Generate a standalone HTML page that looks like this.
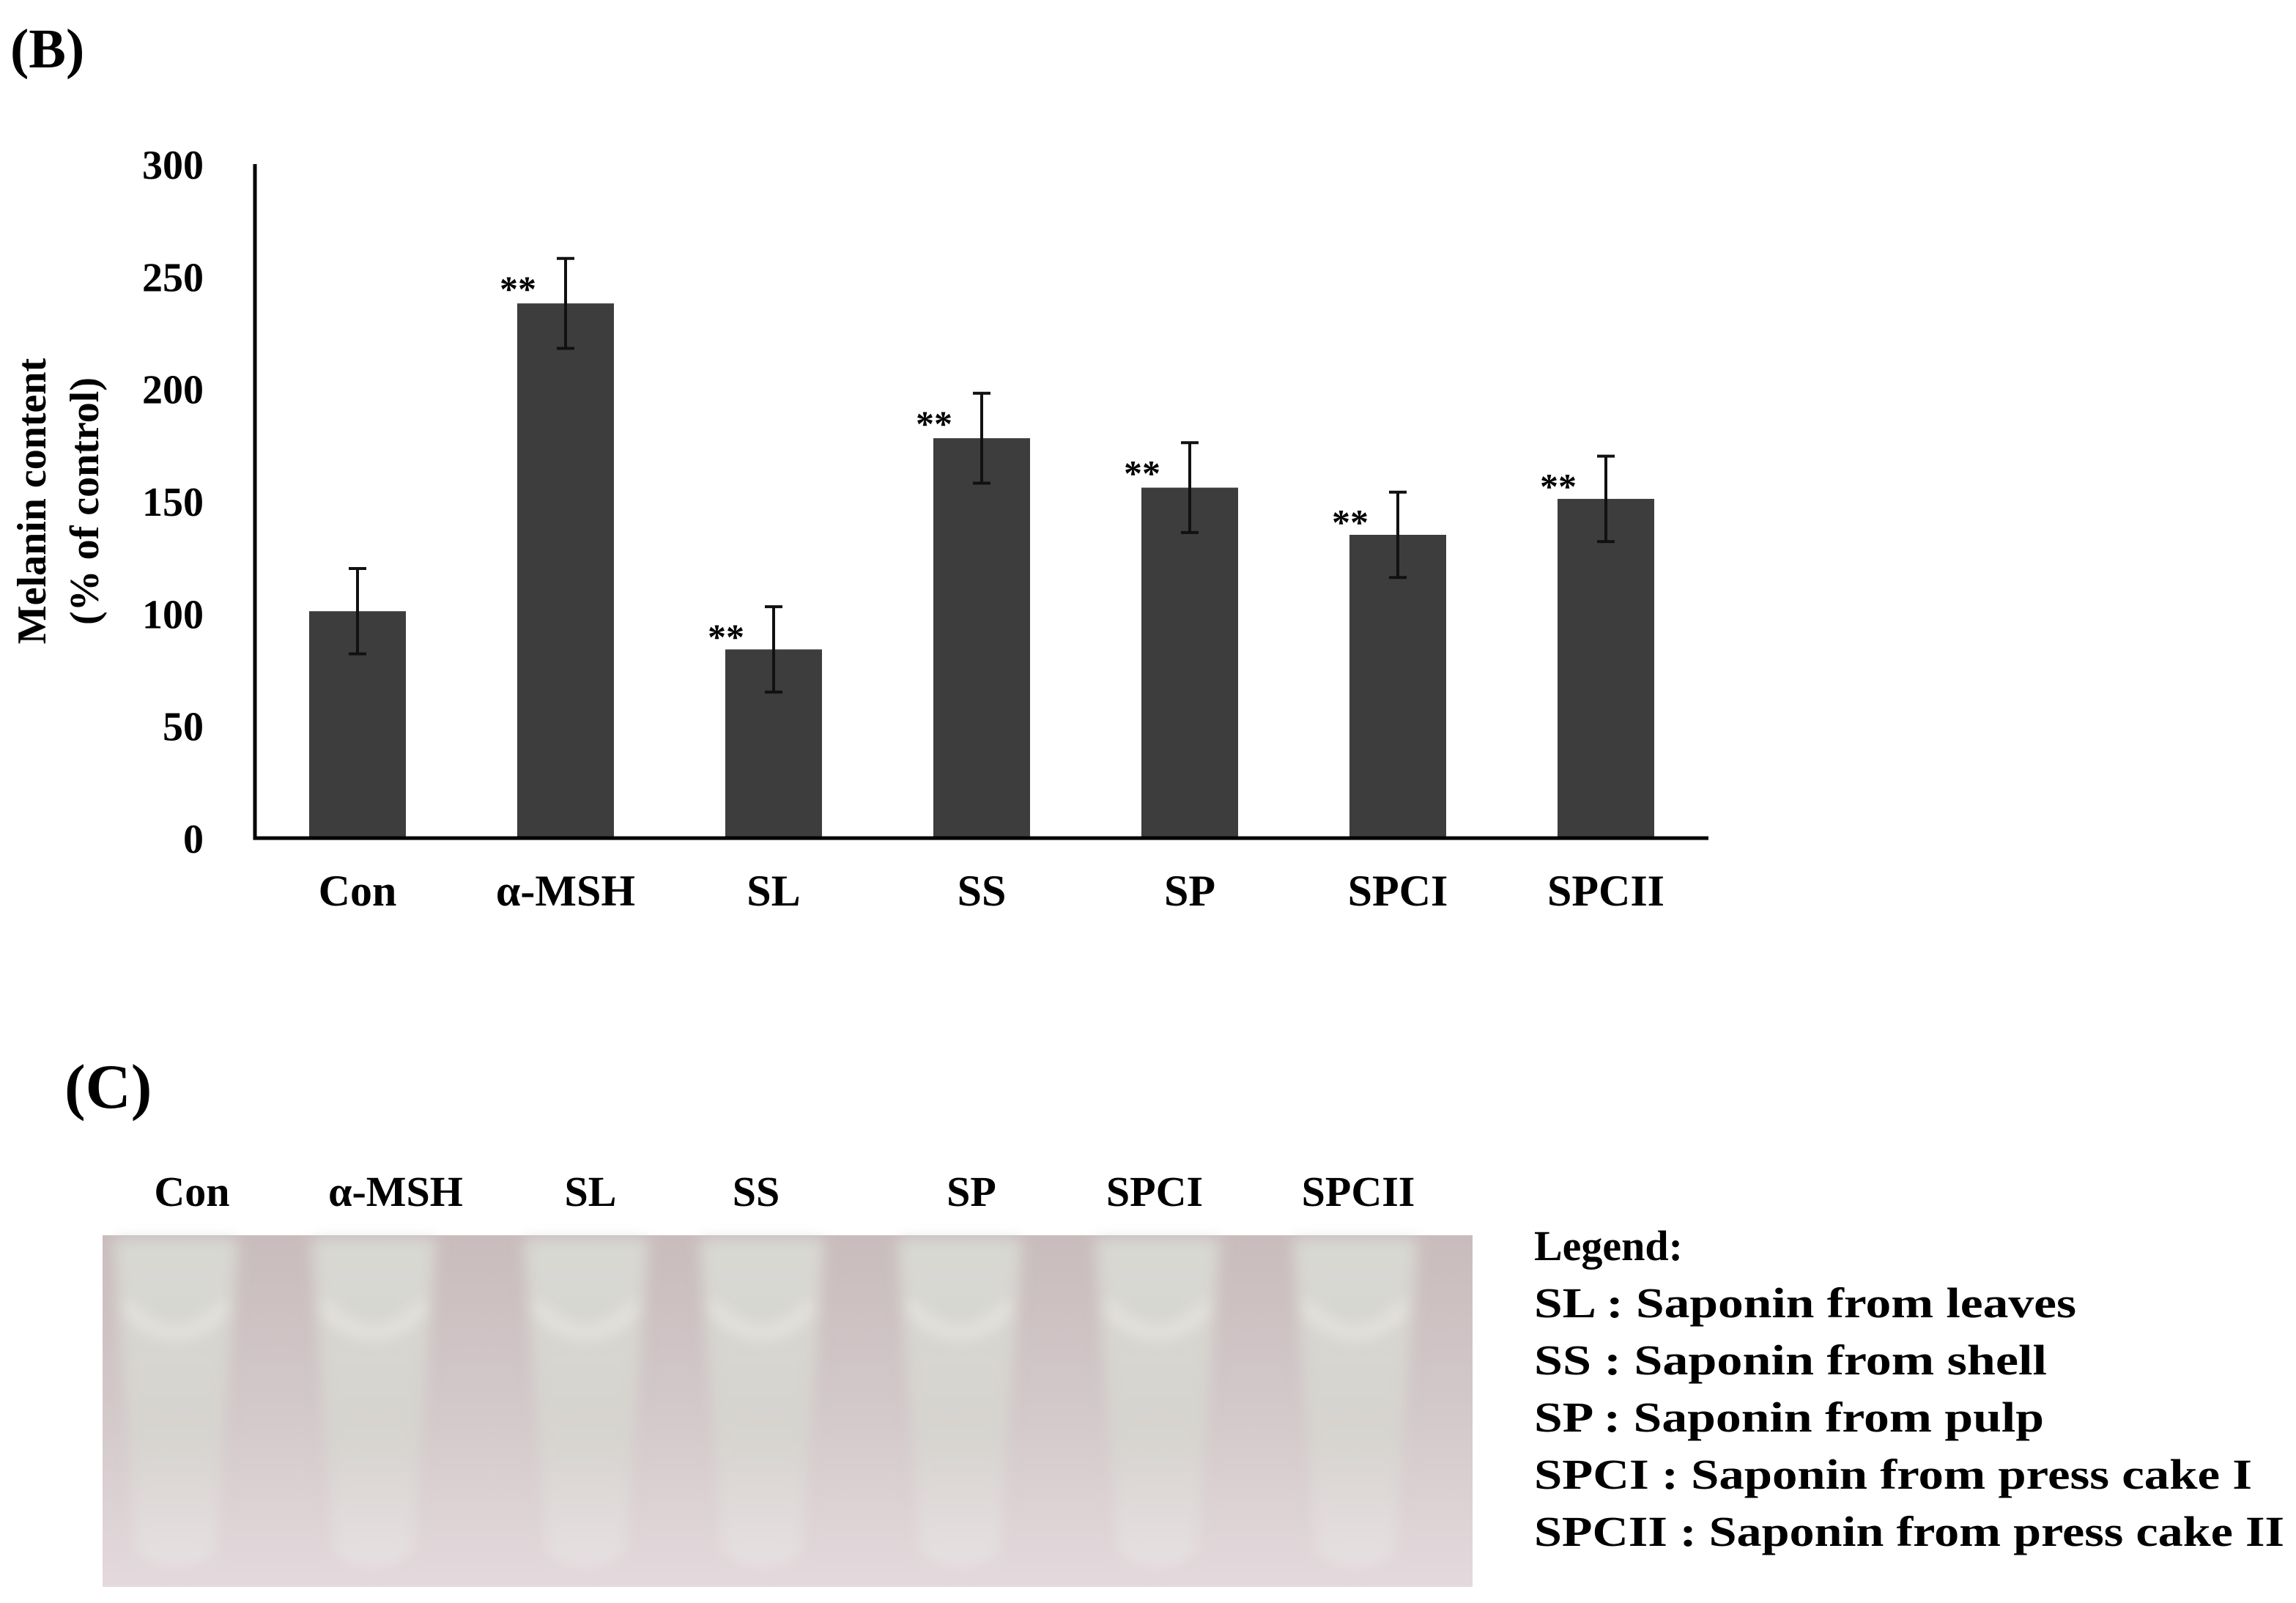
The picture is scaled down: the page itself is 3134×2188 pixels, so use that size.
<!DOCTYPE html>
<html><head><meta charset="utf-8"><style>
html,body{margin:0;padding:0;background:#fff;}
svg{display:block;font-family:"Liberation Serif",serif;font-weight:bold;}
</style></head><body>
<svg id="fig" width="3134" height="2188" viewBox="0 0 3134 2188" xmlns="http://www.w3.org/2000/svg">
<defs>
<linearGradient id="bg" x1="0" y1="0" x2="0" y2="1">
<stop offset="0" stop-color="#c9bcbd"/><stop offset="0.5" stop-color="#d3c8ca"/><stop offset="1" stop-color="#e4d9dc"/>
</linearGradient>
<linearGradient id="tube" x1="0" y1="0" x2="0" y2="1">
<stop offset="0" stop-color="#dcdfd8"/><stop offset="0.6" stop-color="#d6d6d0"/><stop offset="1" stop-color="#e8e2e4"/>
</linearGradient>
<filter id="blur"><feGaussianBlur stdDeviation="10"/></filter>
</defs>
<text x="14" y="92" font-size="76">(B)</text>
<g id="chart"></g>
<text x="88" y="1512" font-size="86">(C)</text>
<g id="photo">
<rect x="140" y="1686" width="1870" height="480" fill="url(#bg)"/>
</g>
<g id="legend" font-size="58">
<text x="2094" y="1720">Legend:</text>
<text x="2094" y="1798" textLength="740" lengthAdjust="spacingAndGlyphs">SL : Saponin from leaves</text>
<text x="2094" y="1876" textLength="700" lengthAdjust="spacingAndGlyphs">SS : Saponin from shell</text>
<text x="2094" y="1954" textLength="696" lengthAdjust="spacingAndGlyphs">SP : Saponin from pulp</text>
<text x="2094" y="2032" textLength="980" lengthAdjust="spacingAndGlyphs">SPCI : Saponin from press cake I</text>
<text x="2094" y="2110" textLength="1024" lengthAdjust="spacingAndGlyphs">SPCII : Saponin from press cake II</text>
</g>
</svg>
<script>
const categories = ["Con", "\u03b1-MSH", "SL", "SS", "SP", "SPCI", "SPCII"];
const values = [101, 238, 84, 178, 156, 135, 151];
const errors = [19, 20, 19, 20, 20, 19, 19];
const significant = [false, true, true, true, true, true, true];
const yTicks = [0, 50, 100, 150, 200, 250, 300];
const photoLabels = ["Con", "\u03b1-MSH", "SL", "SS", "SP", "SPCI", "SPCII"];

const NS = "http://www.w3.org/2000/svg";
const X0 = 348, X1 = 2332, Y0 = 1144, Ytop = 224;
const yScale = v => Y0 - (v / 300) * (Y0 - Ytop);
const firstC = 488, step = 284, barW = 132;
const xScale = i => firstC + i * step;
function mk(tag, attrs, parent) {
  const e = document.createElementNS(NS, tag);
  for (const k in attrs) e.setAttribute(k, attrs[k]);
  parent.appendChild(e);
  return e;
}
const chart = document.getElementById("chart");
categories.forEach((c, i) => {
  const cx = xScale(i), top = yScale(values[i]);
  const r = mk("rect", {x: cx - barW / 2, y: top, width: barW, height: Y0 - top, fill: "#3d3d3d"}, chart);
  
  
  const eT = yScale(values[i] + errors[i]), eB = yScale(values[i] - errors[i]);
  const g = mk("g", {stroke: "#111", "stroke-width": 4}, chart);
  
  
  mk("line", {x1: cx, x2: cx, y1: eT, y2: eB}, g);
  mk("line", {x1: cx - 12, x2: cx + 12, y1: eT, y2: eT}, g);
  mk("line", {x1: cx - 12, x2: cx + 12, y1: eB, y2: eB}, g);
  if (significant[i]) {
    const s = mk("text", {x: cx - 40, y: eT + 58, "text-anchor": "end", "font-size": 50}, chart);
    s.textContent = "**";
    
    
  }
  const t = mk("text", {x: cx, y: 1236, "text-anchor": "middle", "font-size": 60}, chart);
  t.textContent = c;
  
  
});
yTicks.forEach(v => {
  const t = mk("text", {x: 278, y: yScale(v) + 20, "text-anchor": "end", "font-size": 56}, chart);
  t.textContent = v;
  
  
});
const ax = mk("path", {d: `M${X0} ${Ytop} V${Y0} H${X1}`, fill: "none", stroke: "#000", "stroke-width": 5}, chart);


const yt = mk("text", {transform: "translate(62,684) rotate(-90)", "text-anchor": "middle", "font-size": 56}, chart);
yt.textContent = "Melanin content";


const yt2 = mk("text", {transform: "translate(134,684) rotate(-90)", "text-anchor": "middle", "font-size": 56}, chart);
yt2.textContent = "(%  of control)";



// photo
const photo = document.getElementById("photo");
const tubeX = [240, 510, 800, 1040, 1310, 1580, 1850];
const photoLabelX = [262, 540, 806, 1032, 1326, 1576, 1854];
const pg = mk("g", {filter: "url(#blur)"}, photo);
tubeX.forEach((tx, i) => {
  const p = mk("path", {d: `M${tx - 85} 1690 L${tx + 85} 1690 L${tx + 55} 2120 Q${tx} 2160 ${tx - 55} 2120 Z`, fill: "url(#tube)", opacity: 0.8}, pg);
  
  
  mk("path", {d: `M${tx - 70} 1780 Q${tx} 1860 ${tx + 70} 1780`, fill: "none", stroke: "#f2f0ea", "stroke-width": 10, opacity: 0.8}, pg);
  const t = mk("text", {x: photoLabelX[i], y: 1646, "text-anchor": "middle", "font-size": 58}, photo);
  t.textContent = photoLabels[i];
  
  
});
</script>
</body></html>
